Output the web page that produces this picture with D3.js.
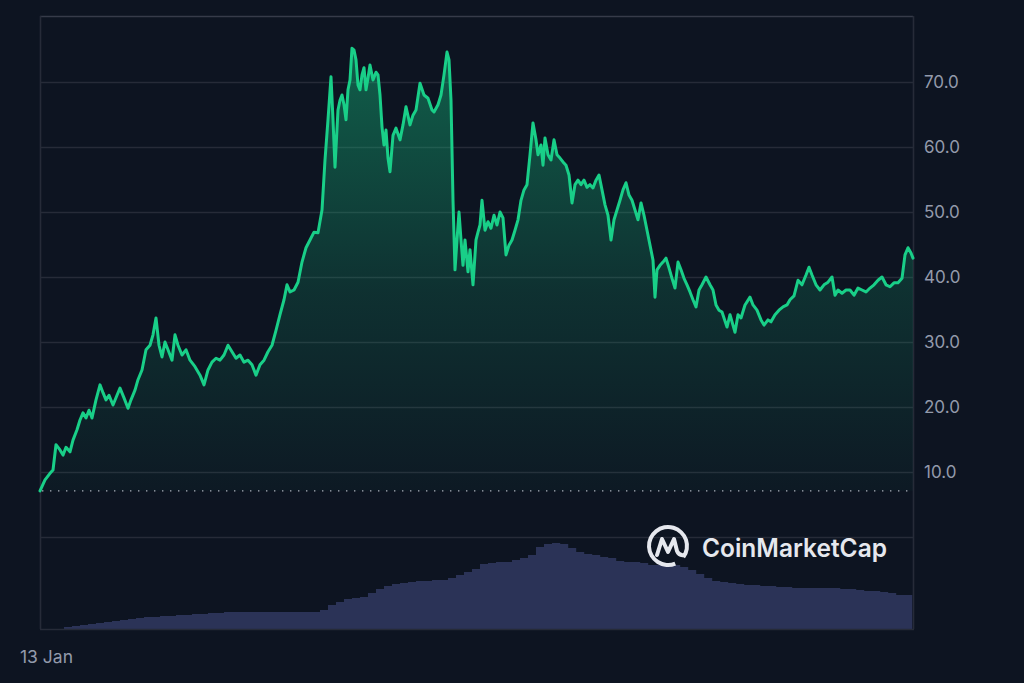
<!DOCTYPE html>
<html><head><meta charset="utf-8">
<script src="https://cdn.jsdelivr.net/npm/d3@7"></script>
<style>
html,body{margin:0;padding:0;background:#0d1421;}
svg{display:block;}
</style></head><body>
<svg id="chart" width="1024" height="683"></svg>
<script>
// ---- data ----
const priceStep = [0,5,10,13,16,20,23,26,30,33,37,40,43,46,49,52,56,60,63,66,69,73,77,80,84,88,91,95,98,102,106,110,113,116,119,122,125,128,132,135,138,142,146,150,155,160,164,168,172,176,180,184,188,192,196,200,204,208,212,216,220,224,228,232,236,240,244,247,250,254,258,262,266,270,274,278,282,285,288,291,293,295,298,300,302,304,306,308,310,312,314,316,318,320,322,324,326,328,330,333,336,338,340,342,344,346,348,350,353,356,360,363,366,370,373,376,380,384,388,392,394,398,401,404,407,409,411,413,415,417,419,421,423,425,428,430,433,436,438,440,442,445,448,451,454,457,460,463,466,469,472,475,478,481,484,487,490,493,496,498,501,503,505,508,511,514,517,520,523,526,529,532,535,538,541,544,547,550,553,556,559,562,565,568,571,574,577,580,583,586,589,592,595,598,601,604,607,610,613,615,617,620,623,626,629,632,635,638,641,644,647,650,653,656,659,662,666,670,673,676,679,682,687,690,695,698,701,705,710,713,717,721,724,728,731,735,739,743,747,750,754,758,762,766,769,772,776,780,784,788,792,795,798,802,806,810,814,818,822,826,830,834,838,842,846,850,854,858,862,865,868,871,873];
const priceValue = [7.1,8.8,9.8,10.3,14.2,13.4,12.6,13.8,13.1,14.9,16.5,18.0,19.1,18.3,19.5,18.3,21.1,23.4,22.2,21.1,21.8,20.3,21.8,22.9,21.4,19.8,21.1,22.6,24.2,25.7,28.8,29.5,31.1,33.7,29.5,27.7,30.0,28.8,27.2,31.1,29.5,28.0,28.8,27.2,26.2,24.9,23.4,25.7,26.9,27.5,27.2,28.0,29.5,28.5,27.5,28.0,26.9,27.2,26.5,24.9,26.5,27.2,28.5,29.5,31.8,34.2,36.5,38.8,37.7,38.0,39.2,42.3,44.5,45.7,46.9,46.8,50.3,58.0,64.2,70.8,64.2,56.9,65.7,67.2,68.0,66.5,64.2,68.8,70.3,75.2,74.9,73.4,69.5,68.8,71.1,72.2,68.8,70.6,72.6,70.3,71.5,71.1,68.0,63.1,60.3,62.6,58.3,56.2,61.8,62.9,61.1,63.4,66.2,63.4,64.9,65.7,69.8,68.0,67.5,65.7,65.4,66.5,68.0,71.1,74.6,73.4,67.2,51.8,41.1,45.7,50.0,45.7,41.8,45.7,40.8,44.2,38.8,45.7,46.9,48.0,51.8,47.2,48.5,47.5,49.5,48.0,50.0,49.1,43.4,44.9,45.7,47.2,48.8,51.8,53.4,54.2,58.8,63.7,61.1,58.8,60.3,57.2,61.4,58.8,58.0,61.1,58.8,58.3,57.7,57.2,55.7,51.4,54.2,54.9,54.2,54.9,53.8,54.2,53.7,54.9,55.7,53.4,51.1,49.5,45.7,48.8,50.3,51.8,53.4,54.5,52.6,51.8,50.3,48.8,51.4,49.5,47.2,44.9,42.6,36.9,41.1,41.8,42.3,42.9,41.4,39.8,38.3,42.3,41.1,39.8,38.8,37.7,36.5,35.4,38.0,38.8,40.0,38.8,38.0,35.7,34.9,34.6,32.3,34.2,31.5,34.2,33.7,35.7,36.9,35.7,34.9,33.4,32.6,33.4,33.1,34.2,34.9,35.4,35.7,36.5,37.1,39.5,38.8,40.3,41.5,40.3,38.8,38.0,38.8,39.2,40.0,37.2,38.0,37.5,38.0,38.0,37.2,38.3,38.0,37.7,38.3,38.8,39.5,40.0,38.8,38.5,39.1,39.1,39.8,43.4,44.5,43.7,42.9];
const volumeStepSize = 8;
const volumeValue = [0,0,0,2,3,4,5,6,7,8,9,10,11,12,12,13,13,14,14,15,15,16,16,17,17,17,17,17,17,17,17,17,17,17,17,19,24,27,30,31,32,36,40,43,45,46,47,48,48,49,49,51,54,57,60,65,66,67,67,69,71,74,82,85,86,85,81,77,75,74,72,71,68,67,67,66,64,64,64,64,62,59,55,51,48,47,46,45,44,44,43,43,42,42,41,41,41,41,41,41,40,40,39,38,38,37,36,34,34];
const yTicks = [10,20,30,40,50,60,70];
const xTickSteps = [0];
const xTickLabels = ["13 Jan"];
const stepCount = 873;
const baselineValue = priceValue[0];

// ---- layout ----
const svg = d3.select("#chart");
const L = 40, R = 913, T = 16, B = 629;
const priceBottom = 537;

const x = d3.scaleLinear().domain([0, stepCount]).range([L, R]);
const y = d3.scaleLinear().domain([0, 80]).range([priceBottom, 17]);
const yv = d3.scaleLinear().domain([0, 92]).range([B, priceBottom]);

svg.append("rect").attr("width",1024).attr("height",683).attr("fill","#0d1421");

const defs = svg.append("defs");
const grad = defs.append("linearGradient").attr("id","gfill")
  .attr("gradientUnits","userSpaceOnUse")
  .attr("x1",0).attr("x2",0).attr("y1",y(75)).attr("y2",y(baselineValue));
grad.append("stop").attr("offset","0%").attr("stop-color","#16c784").attr("stop-opacity",0.42);
grad.append("stop").attr("offset","55%").attr("stop-color","#16c784").attr("stop-opacity",0.16);
grad.append("stop").attr("offset","100%").attr("stop-color","#16c784").attr("stop-opacity",0.03);

// gridlines
svg.append("g").selectAll("line").data(yTicks.concat([0])).join("line")
  .attr("x1",L).attr("x2",R)
  .attr("y1",d=>Math.round(y(d))+0.5).attr("y2",d=>Math.round(y(d))+0.5)
  .attr("stroke","#262b38").attr("stroke-width",1.6);

// frame
svg.append("line").attr("x1",L).attr("x2",R).attr("y1",T+0.5).attr("y2",T+0.5).attr("stroke","#363b49").attr("stroke-width",1.6);
svg.append("line").attr("x1",L+0.5).attr("x2",L+0.5).attr("y1",T).attr("y2",B).attr("stroke","#262b38").attr("stroke-width",1.6);
svg.append("line").attr("x1",R+0.5).attr("x2",R+0.5).attr("y1",T).attr("y2",B).attr("stroke","#262b38").attr("stroke-width",1.6);

// volume bars
const bw = x(volumeStepSize) - x(0);
svg.append("g").selectAll("rect").data(volumeValue).join("rect")
  .attr("x",(d,i)=>x(i*volumeStepSize))
  .attr("width",(d,i)=>Math.min(bw, x(stepCount)-x(i*volumeStepSize)) + 0.2)
  .attr("y",d=>yv(d)).attr("height",d=>yv(0)-yv(d))
  .attr("fill","#2b3357");
svg.append("line").attr("x1",L).attr("x2",R+1).attr("y1",B+0.5).attr("y2",B+0.5).attr("stroke","#262b38").attr("stroke-width",1.5);

// price data
const pts = priceStep.map((s,i)=>({s, v: priceValue[i]}));

// area fill down to baseline
const area = d3.area().x(d=>x(d.s)).y0(y(baselineValue)).y1(d=>y(d.v)).curve(d3.curveLinear);
svg.append("path").datum(pts).attr("d",area).attr("fill","url(#gfill)");

// baseline dotted
svg.append("line").attr("x1",L+2).attr("x2",R).attr("y1",y(baselineValue)).attr("y2",y(baselineValue))
  .attr("stroke","#c7cbd6").attr("stroke-width",1.4).attr("stroke-dasharray","1.4,6.6").attr("opacity",0.85);

// line
const line = d3.line().x(d=>x(d.s)).y(d=>y(d.v)).curve(d3.curveLinear);
svg.append("path").datum(pts).attr("d",line).attr("fill","none")
  .attr("stroke","#19cf88").attr("stroke-width",3).attr("stroke-linejoin","round").attr("stroke-linecap","round");

// y axis labels
const yAxis = d3.axisRight(y).tickValues(yTicks).tickFormat(d3.format(".1f")).tickSize(0).tickPadding(0);
const ga = svg.append("g").attr("transform",`translate(${R+11},0)`).call(yAxis);
ga.select(".domain").remove();
ga.selectAll("text").attr("fill","#939aab").attr("font-family","Inter, 'Open Sans', sans-serif")
  .attr("font-size",17).attr("dy","0.35em");

// x axis label
svg.append("g").selectAll("text").data(xTickSteps).join("text")
  .attr("x",d=>x(d)-20).attr("y",657).attr("dy","0.35em")
  .attr("fill","#939aab").attr("font-family","Inter, 'Open Sans', sans-serif").attr("font-size",17.5)
  .text((d,i)=>xTickLabels[i]);

// watermark logo
const logo = svg.append("g").attr("transform","translate(668,546)");
const arc = d3.arc().innerRadius(17).outerRadius(21).startAngle(2.75).endAngle(2.2 + 2*Math.PI);
logo.append("path").attr("d",arc()).attr("fill","#e6e8ee");
logo.append("path").attr("d","M-11,9 L-6,-7 L0,6 L6,-7 L9,5 Q11,10 16,9")
  .attr("fill","none").attr("stroke","#e6e8ee").attr("stroke-width",4).attr("stroke-linejoin","round").attr("stroke-linecap","round");
svg.append("text").attr("x",702).attr("y",557).text("CoinMarketCap")
  .attr("fill","#e6e8ee").attr("font-family","Inter, 'Open Sans', sans-serif").attr("font-weight",600)
  .attr("font-size",25.5).attr("textLength",185).attr("lengthAdjust","spacingAndGlyphs");
</script>
</body></html>
